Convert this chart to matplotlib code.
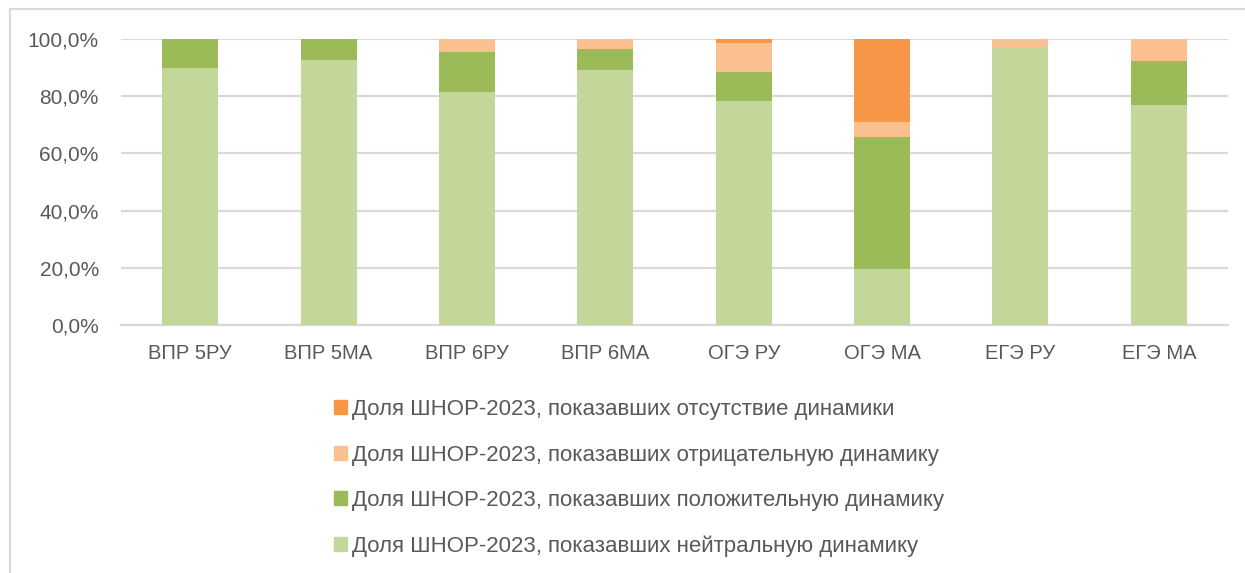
import numpy as np
import matplotlib
matplotlib.use("Agg")
import matplotlib.pyplot as plt
from matplotlib.patches import Patch
from matplotlib.lines import Line2D
from matplotlib.ticker import FuncFormatter

plt.rcParams['font.family'] = ['Liberation Sans', 'DejaVu Sans']

categories = ['ВПР 5РУ', 'ВПР 5МА', 'ВПР 6РУ', 'ВПР 6МА', 'ОГЭ РУ', 'ОГЭ МА', 'ЕГЭ РУ', 'ЕГЭ МА']
# shares, %
neutral = [90.0, 92.7, 81.5, 89.1, 78.3, 19.5, 97.1, 76.9]
positive = [10.0, 7.3, 13.8, 7.5, 10.3, 46.1, 0.0, 15.3]
negative = [0.0, 0.0, 4.7, 3.4, 9.9, 5.4, 2.9, 7.8]
no_dyn = [0.0, 0.0, 0.0, 0.0, 1.5, 29.0, 0.0, 0.0]

labels = ['Доля ШНОР-2023, показавших нейтральную динамику',
          'Доля ШНОР-2023, показавших положительную динамику',
          'Доля ШНОР-2023, показавших отрицательную динамику',
          'Доля ШНОР-2023, показавших отсутствие динамики']
colors = ['#C4D79B', '#9BBB59', '#FAC090', '#F79646']

series = [neutral, positive, negative, no_dyn]
txt = '#595959'
grid = '#D9D9D9'

fig = plt.figure(figsize=(12.45, 5.73), dpi=100)
ax = fig.add_axes([121/1245, 1-325/573, (1228-121)/1245, (325-39)/573])

x = np.arange(len(categories))
bottom = np.zeros(len(categories))
for vals, c in zip(series, colors):
    v = np.array(vals) / 100
    ax.bar(x, v, 0.405, bottom=bottom, color=c, edgecolor='none', zorder=3)
    bottom += v

ax.set_xlim(-0.5, len(categories) - 0.5)
ax.set_ylim(0, 1)
ax.set_yticks(np.arange(0, 1.01, 0.2))
ax.yaxis.set_major_formatter(FuncFormatter(lambda v, p: '{:.1f}%'.format(v*100).replace('.', ',')))
ax.set_xticks(x)
ax.set_xticklabels(categories)
ax.tick_params(axis='y', length=0, pad=16, labelsize=15, labelcolor=txt)
ax.tick_params(axis='x', length=0, pad=14, labelsize=14.5, labelcolor=txt)
ax.grid(axis='y', color=grid, linewidth=1.6, zorder=0)
for s in ['left', 'right', 'top']:
    ax.spines[s].set_visible(False)
ax.spines['bottom'].set_color(grid)
ax.spines['bottom'].set_linewidth(1.6)

handles = [Patch(color=c) for c in colors][::-1]
fig.legend(handles, labels[::-1], loc='center', bbox_to_anchor=(639/1245, 1-478/573),
           frameon=False, fontsize=16, labelcolor=txt, handlelength=0.58, handleheight=0.58,
           handletextpad=0.2, labelspacing=1.1, borderpad=0)

# outer frame
fig.add_artist(Line2D([10/1245, 10/1245], [0, 1-9/573], color=grid, lw=1.5))
fig.add_artist(Line2D([10/1245, 1], [1-9/573, 1-9/573], color=grid, lw=1.5))

fig.savefig('out.png', dpi=100)
